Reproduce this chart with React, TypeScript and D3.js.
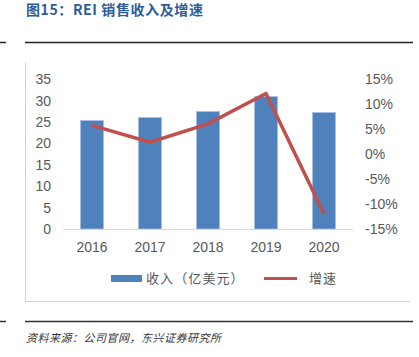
import React from "react";
import * as d3 from "d3";

const years = ["2016", "2017", "2018", "2019", "2020"];
const revenue = [25.4, 26.1, 27.5, 31.0, 27.3];
const growth = [5.8, 2.4, 6.1, 12.2, -12.0];
const leftTicks = [0, 5, 10, 15, 20, 25, 30, 35];
const rightTicks = [-15, -10, -5, 0, 5, 10, 15];
const title = "图15：REI 销售收入及增速";
const legendBar = "收入（亿美元）";
const legendLine = "增速";
const source = "资料来源：公司官网，东兴证券研究所";

export default function App() {
  const W = 419, H = 357;
  const plotL = 63, plotR = 353, top = 79.5, bottom = 229;
  const x = d3.scaleBand().domain(years).range([plotL, plotR]).paddingInner(0.6).paddingOuter(0.3);
  const yL = d3.scaleLinear().domain([0, 35]).range([bottom, top]);
  const yR = d3.scaleLinear().domain([-15, 15]).range([bottom, top]);
  const line = d3.line<number>()
    .x((_, i) => (x(years[i]) as number) + x.bandwidth() / 2)
    .y((d) => yR(d));
  const font = "'Liberation Sans', Arial, sans-serif";
  const cjk = "'Noto Sans CJK SC', sans-serif";
  return (
    <svg width={W} height={H} style={{ position: "absolute", left: 0, top: 0, background: "#fff" }}>
      <text x={26} y={15} fontFamily={cjk} fontWeight="bold" fontSize={14} letterSpacing={0.6} fill="#2e5c9a">{title}</text>
      <line x1={0} x2={6} y1={42.5} y2={42.5} stroke="#222" strokeWidth={1.5} />
      <line x1={25} x2={413} y1={42.5} y2={42.5} stroke="#222" strokeWidth={1.5} />
      <line x1={25.5} x2={25.5} y1={62} y2={301} stroke="#d0d0d0" strokeWidth={1} />
      <line x1={25} x2={410} y1={301.5} y2={301.5} stroke="#d0d0d0" strokeWidth={1} />
      <line x1={0} x2={6} y1={321.5} y2={321.5} stroke="#333" strokeWidth={1.5} />
      <line x1={25} x2={413} y1={321.5} y2={321.5} stroke="#333" strokeWidth={1.5} />
      {years.map((yr, i) => (
        <rect key={yr} x={x(yr)} y={yL(revenue[i])} width={x.bandwidth()} height={bottom - yL(revenue[i])}
          fill="#4f81bd" stroke="#a9c1e3" strokeWidth={0.8} />
      ))}
      <line x1={plotL} x2={plotR} y1={bottom + 0.5} y2={bottom + 0.5} stroke="#d9d9d9" strokeWidth={1} />
      <path d={line(growth) || ""} fill="none" stroke="#c0504d" strokeWidth={3.5} strokeLinejoin="round" />
      {leftTicks.map((t) => (
        <text key={t} x={51} y={yL(t)} dy="0.35em" textAnchor="end" fontFamily={font} fontSize={14} fill="#595959">{t}</text>
      ))}
      {rightTicks.map((t) => (
        <text key={t} x={365} y={yR(t)} dy="0.35em" textAnchor="start" fontFamily={font} fontSize={14} fill="#595959">{t + "%"}</text>
      ))}
      {years.map((yr) => (
        <text key={yr} x={(x(yr) as number) + x.bandwidth() / 2} y={247} dy="0.35em" textAnchor="middle" fontFamily={font} fontSize={14} fill="#595959">{yr}</text>
      ))}
      <rect x={111} y={275} width={31} height={7} fill="#4f81bd" />
      <text x={146} y={278.5} dy="0.35em" fontFamily={cjk} fontSize={13} letterSpacing={1.1} fill="#595959">{legendBar}</text>
      <line x1={264} x2={297} y1={278.5} y2={278.5} stroke="#c0504d" strokeWidth={3} />
      <text x={309} y={278.5} dy="0.35em" fontFamily={cjk} fontSize={13} letterSpacing={1.1} fill="#595959">{legendLine}</text>
      <text x={26} y={338} dy="0.35em" fontFamily={cjk} fontStyle="italic" fontSize={11} letterSpacing={0.5} fill="#333">{source}</text>
    </svg>
  );
}
